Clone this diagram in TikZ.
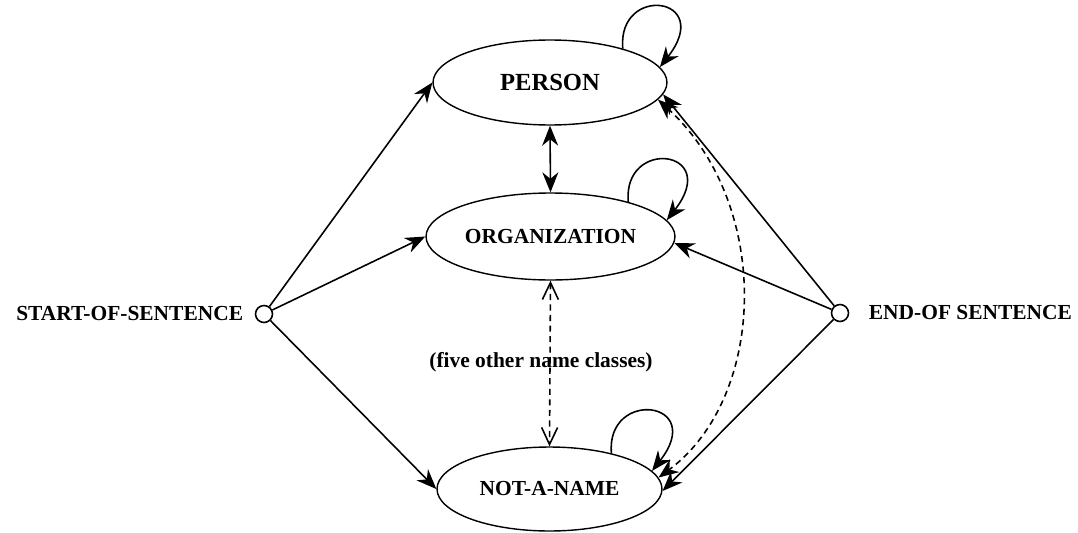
\documentclass[tikz,border=0pt]{standalone}
\usepackage{fontspec}
\setmainfont{Liberation Serif}
\usetikzlibrary{arrows.meta,shapes.geometric,positioning}

\begin{document}
\begin{tikzpicture}[x=0.02cm, y=0.02cm, line width=0.9pt, font=\bfseries\fontsize{12.2pt}{14pt}\selectfont,
  >={Stealth[length=0.4cm, width=0.32cm]},
  state/.style={draw, ellipse, inner sep=0pt, line width=0.8pt}, endpt/.style={draw, circle, inner sep=0pt, minimum size=0.34cm},
  selfloop/.style={->, out=95, in=52, out distance=1.3cm, in distance=1.8cm},
  dashline/.style={dash pattern=on 3.5pt off 2.5pt},
  barbs/.style={dashline, arrows={Straight Barb[length=0.34cm, width=0.32cm]-Straight Barb[length=0.34cm, width=0.32cm]}}]
\useasboundingbox (0,0) rectangle (1078,532);
\node[state, minimum width=4.68cm, minimum height=1.7cm, font=\bfseries\fontsize{14pt}{16pt}\selectfont] (person) at (550,449.5) {PERSON};
\node[state, minimum width=4.98cm, minimum height=1.74cm] (org) at (550.5,295.5) {ORGANIZATION}; \node[state, minimum width=4.5cm, minimum height=1.68cm] (notname) at (549.5,43) {NOT-A-NAME};
\node[endpt] (start) at (264,218) {}; \node[endpt] (stop) at (840,219) {};
\node[left=0.1cm of start] (startlbl) {START-OF-SENTENCE}; \node[right=0.26cm of stop] (stoplbl) {END-OF SENTENCE};
\node (others) at (541,170) {(five other name classes)};
% transitions from the sentence boundaries
\draw[->] (start) -- (person.west); \draw[->] (start) -- (org.west); \draw[->] (start) -- (notname.west);
\draw[->] (stop) -- (person.-6); \draw[->] (stop) -- (org.-3); \draw[->] (stop) -- (notname.-1);
% between the classes
\draw[<->] (person.south) -- (org.north); \draw[barbs] (org.south) -- (notname.north);
\draw[dashline, <->] (person.-9) .. controls +(115,-105) and +(108,80) .. (notname.6);
\draw[selfloop] (person.25) to (person.8); \draw[selfloop] (org.24) to (org.8); \draw[selfloop] (notname.30) to (notname.10);
\end{tikzpicture}
\end{document}
